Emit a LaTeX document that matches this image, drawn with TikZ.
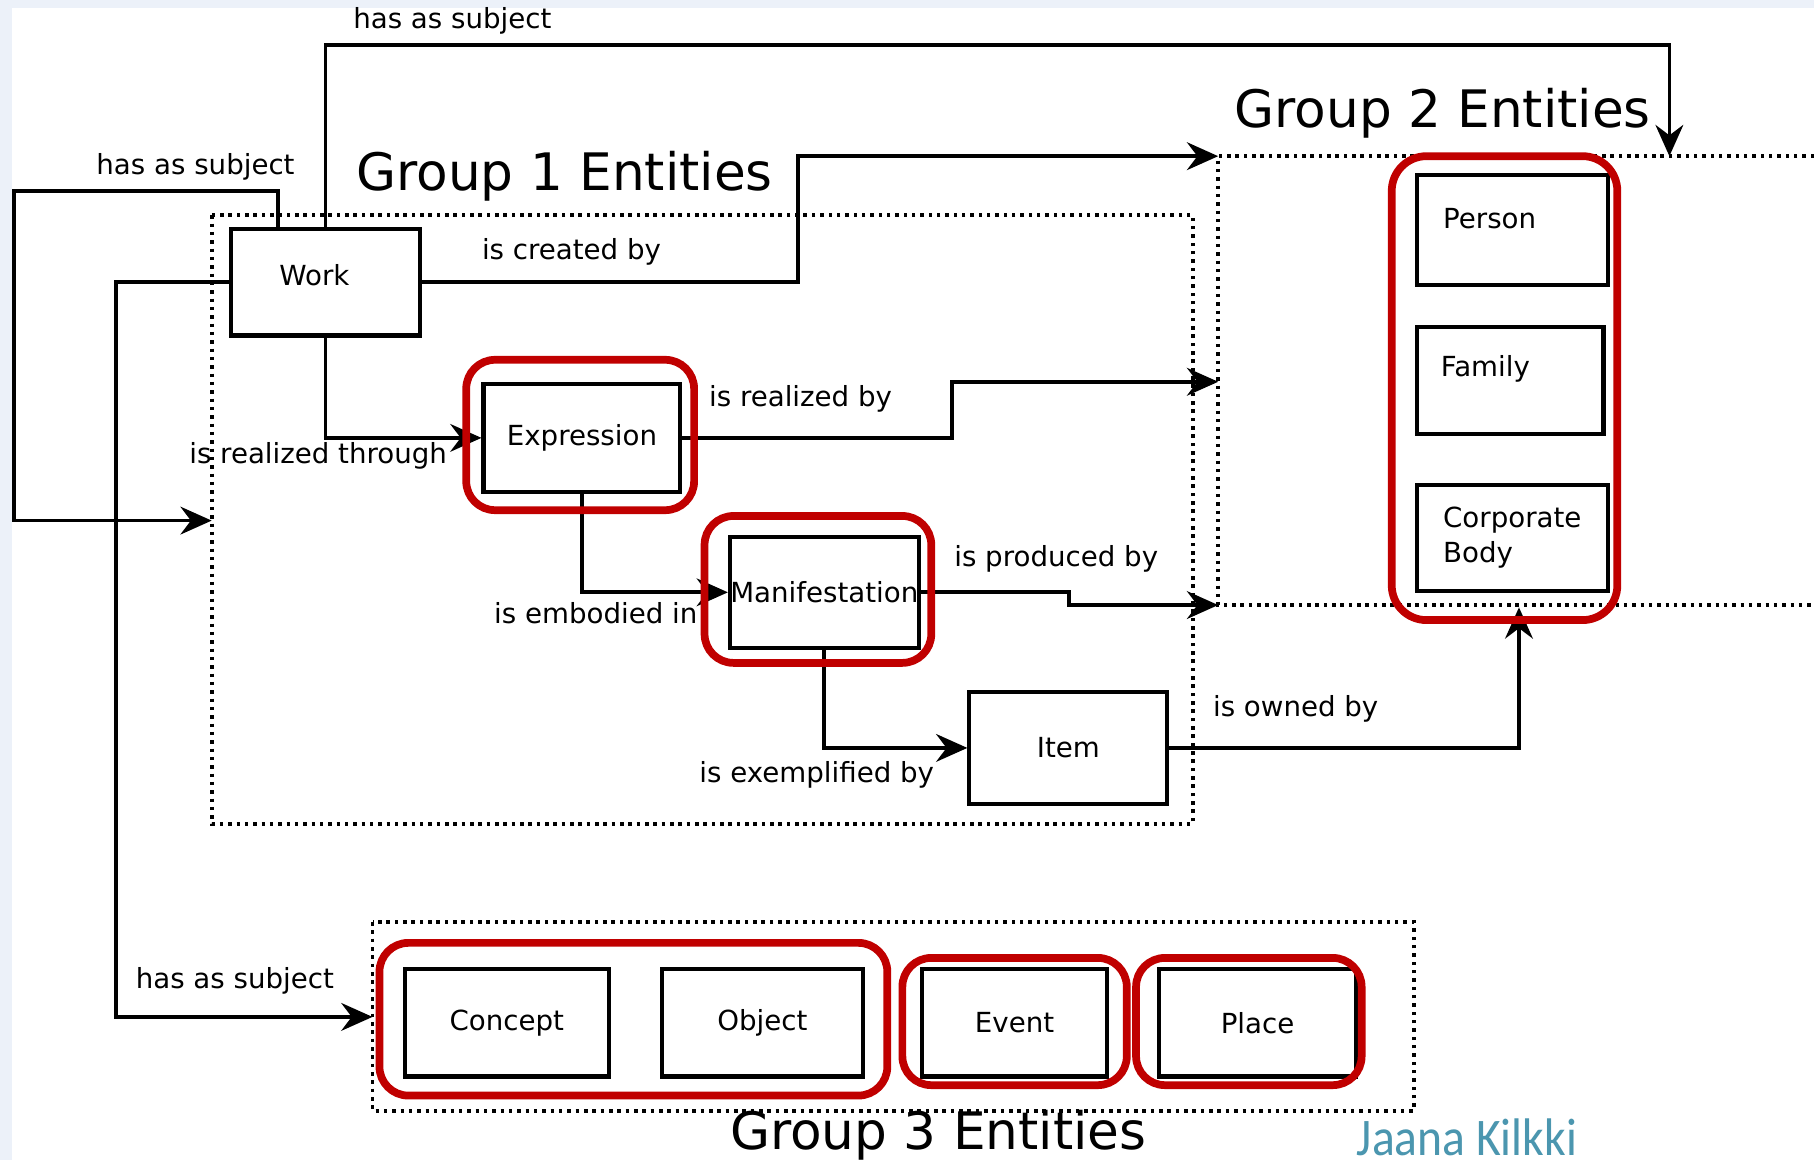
\documentclass[tikz,border=0pt]{standalone}
\usepackage{fontspec}
\setmainfont{DejaVu Sans}
\newfontfamily\sigfont{Carlito}
\usetikzlibrary{arrows.meta}
\newcommand{\sm}{\fontsize{6.8}{8.6}\selectfont}
\newcommand{\grpfont}{\fontsize{12.7}{15}\selectfont}
\definecolor{hired}{RGB}{192,0,0}
\definecolor{sigblue}{RGB}{75,150,175}
\definecolor{edgeblue}{RGB}{236,241,249}

\begin{document}
\begin{tikzpicture}[x=0.01cm,y=-0.01cm,
   ent/.style={draw,line width=1pt,inner sep=0pt,minimum width=1.66cm,minimum height=0.93cm,font=\sm,align=left},
   link/.style={line width=0.9pt,-{Stealth[length=0.27cm,width=0.24cm,inset=0.09cm]}},
   rel/.style={font=\sm,inner sep=0pt},
   grp/.style={line width=0.95pt,dash pattern=on 0.03cm off 0.042cm},
   hilite/.style={draw=hired,line width=1.9pt,rounded corners=0.25cm}]
   \useasboundingbox (0,0) rectangle (1568,1003);
   \fill[edgeblue] (0,0) rectangle (1568,1003);
   \fill[white] (10,7) rectangle (1568,1003);

   \draw[grp] (183,186) rectangle (1031,712);
   \draw[grp] (1568,135) -- (1053,135) -- (1053,523) -- (1568,523);
   \draw[grp] (322,797) rectangle (1222,960);
   \coordinate (g1west) at (183,450);
   \coordinate (g2nw)   at (1053,135);
   \coordinate (g2mid)  at (1053,330);
   \coordinate (g2sw)   at (1053,523);
   \coordinate (g2top)  at (1443,135);
   \coordinate (g2low)  at (1313,525);
   \coordinate (g3west) at (322,879);

   \node[anchor=base,inner sep=0pt,font=\grpfont] (g1title) at (488,165) {Group 1 Entities};
   \node[anchor=base,inner sep=0pt,font=\grpfont] (g2title) at (1247,110) {Group 2 Entities};
   \node[anchor=base,inner sep=0pt,font=\grpfont] (g3title) at (811,994) {Group 3 Entities};

   \node[ent,minimum width=1.63cm,minimum height=0.92cm,text width=0.8cm,text depth=0.12cm] (work) at (281.5,244) {Work};
   \node[ent,minimum width=1.70cm] (expr) at (503,378.5) {Expression};
   \node[ent,minimum width=1.63cm,minimum height=0.96cm] (manif) at (712.5,512) {Manifestation};
   \node[ent,minimum width=1.71cm,minimum height=0.97cm] (item) at (923.5,646.5) {Item};
   \node[ent,minimum width=1.65cm,minimum height=0.95cm,text width=1.2cm,text depth=0.2cm] (person) at (1307.5,198.5) {Person};
   \node[ent,minimum width=1.61cm,minimum height=0.92cm,text width=1.2cm,text depth=0.26cm] (family) at (1305.5,329) {Family};
   \node[ent,minimum width=1.65cm,minimum height=0.92cm,text width=1.2cm] (corp) at (1307.5,465) {Corporate\\Body};
   \foreach \n/\x/\w/\t in {concept/438/1.76/Concept,object/659/1.74/Object,event/877/1.60/Event,place/1087/1.70/Place}
     \node[ent,minimum width=\w cm] (\n) at (\x,884) {\t};

   \draw[link] (work.north) |- (1443,39) -- (g2top);
   \draw[link] (work.north west) ++(42,0) |- (12,165) |- (g1west);
   \draw[link] (work.west) -- ++(-98,0) |- (g3west);
   \draw[link] (work.east) -- ++(325,0) |- (g2nw);
   \draw[link] (work.south) |- (expr.west);
   \draw[link] (expr.east) -- ++(233,0) |- (g2mid);
   \draw[link] (expr.south) |- (manif.west);
   \draw[link] (manif.east) -- ++(128,0) |- (g2sw);
   \draw[link] (manif.south) |- (item.west);
   \draw[link] (item.east) -| (g2low);

   \node[rel] (subjtop)  at (391,18)  {has as subject};
   \node[rel] (subjleft) at (169,144) {has as subject};
   \node[rel] (subjlow)  at (203,848) {has as subject};
   \node[rel] (created)  at (494,218) {is created by};
   \node[rel] (through)  at (275,394) {is realized through};
   \node[rel] (realized) at (692,345) {is realized by};
   \node[rel] (embodied) at (515,530) {is embodied in};
   \node[rel] (produced) at (913,483) {is produced by};
   \node[rel] (exempl)   at (706,670) {is exemplified by};
   \node[rel] (owned)    at (1120,613) {is owned by};

   \draw[hilite] (403,311) rectangle (600,441);
   \draw[hilite] (609,446) rectangle (805,573);
   \draw[hilite,rounded corners=0.3cm] (1203,135) rectangle (1398,536);
   \draw[hilite] (328,815) rectangle (767,947);
   \draw[hilite] (780,828) rectangle (974,938);
   \draw[hilite] (982,828) rectangle (1177,938);

   \node[anchor=base,inner sep=0pt,text=sigblue,font=\sigfont\fontsize{13}{15}\selectfont] (sig) at (1268,999) {\scalebox{0.9}[1]{Jaana Kilkki}};
\end{tikzpicture}
\end{document}
